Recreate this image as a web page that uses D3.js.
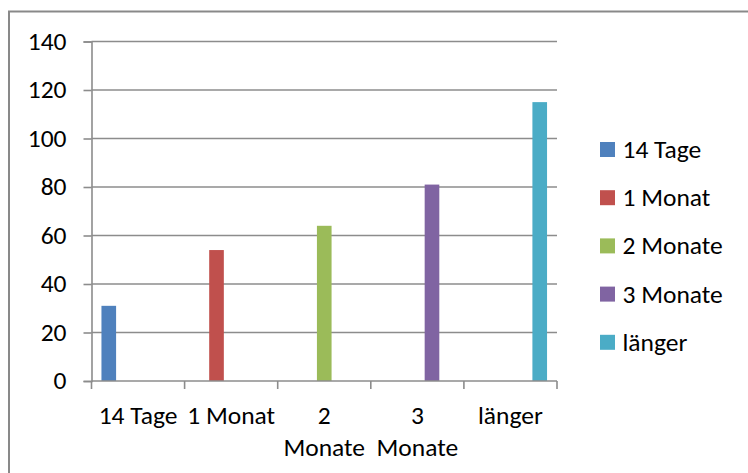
<!DOCTYPE html>
<html>
<head>
<meta charset="utf-8">
<script src="https://cdn.jsdelivr.net/npm/d3@7"></script>
<style>
  body { margin: 0; background: #fff; }
  text { font-family: Carlito, Calibri, "Open Sans", sans-serif; fill: #000; }
</style>
</head>
<body>
<div id="chart"></div>
<script>
// Data
var categories = ["14 Tage", "1 Monat", "2 Monate", "3 Monate", "länger"];
var series = ["14 Tage", "1 Monat", "2 Monate", "3 Monate", "länger"];
var values = [31, 54, 64, 81, 115];
var colors = ["#4f81bd", "#c0504d", "#9bbb59", "#8064a2", "#4bacc6"];
var yTicks = [0, 20, 40, 60, 80, 100, 120, 140];

var W = 748, H = 473;
var fontSize = "25.5px";
var margin = { top: 41.5, left: 91.5 };
var width = 557 - margin.left, height = 381 - margin.top;

var svg = d3.select("#chart").append("svg")
    .attr("width", W)
    .attr("height", H);

svg.append("rect")
    .attr("x", 9).attr("y", 11.5)
    .attr("width", W).attr("height", H)
    .attr("fill", "none")
    .attr("stroke", "#898989")
    .attr("stroke-width", 2);

var g = svg.append("g")
    .attr("transform", "translate(" + margin.left + "," + margin.top + ")");

var x = d3.scaleBand().domain(categories).range([0, width]);
var xs = d3.scaleBand().domain(series).range([0, x.bandwidth()]).paddingOuter(0.68);
var y = d3.scaleLinear().domain([0, 140]).range([height, 0]);

// gridlines
g.selectAll(".grid")
    .data(yTicks.filter(d => d > 0))
    .enter().append("line")
    .attr("x1", 0).attr("x2", width)
    .attr("y1", d => y(d)).attr("y2", d => y(d))
    .attr("stroke", "#8c8c8c")
    .attr("stroke-width", 1.6);

// y axis
var yAxis = g.append("g")
    .call(d3.axisLeft(y).tickValues(yTicks).tickSize(8).tickPadding(17))
    .attr("font-size", null);
yAxis.select(".domain").attr("stroke", "#8c8c8c").attr("stroke-width", 1.6);
yAxis.selectAll(".tick line").attr("stroke", "#8c8c8c").attr("stroke-width", 1.6);
yAxis.selectAll(".tick text").attr("font-size", fontSize).attr("dy", "0.3em").attr("fill", "#000");

// bars: one series per category, others are zero
var rows = categories.map((c, i) => series.map((s, j) => ({ cat: c, s: s, v: i === j ? values[j] : 0, col: colors[j] })));

g.selectAll(".cat")
    .data(rows)
    .enter().append("g")
    .attr("transform", (d, i) => "translate(" + x(categories[i]) + ",0)")
    .selectAll("rect")
    .data(d => d.filter(e => e.v > 0))
    .enter().append("rect")
    .attr("x", d => xs(d.s))
    .attr("width", xs.bandwidth())
    .attr("y", d => y(d.v))
    .attr("height", d => height - y(d.v))
    .attr("fill", d => d.col);

// x axis
var xAxisG = g.append("g")
    .attr("transform", "translate(0," + height + ")");
xAxisG.append("line")
    .attr("x1", 0).attr("x2", width)
    .attr("stroke", "#8c8c8c").attr("stroke-width", 1.6);
var edges = categories.map(c => x(c)).concat([width]);
xAxisG.selectAll(".xt")
    .data(edges)
    .enter().append("line")
    .attr("x1", d => d).attr("x2", d => d)
    .attr("y1", 0).attr("y2", 8)
    .attr("stroke", "#8c8c8c").attr("stroke-width", 1.6);

// category labels, wrapped like the original
var labelLines = { "14 Tage": ["14 Tage"], "1 Monat": ["1 Monat"], "2 Monate": ["2", "Monate"], "3 Monate": ["3", "Monate"], "länger": ["länger"] };
var xl = xAxisG.selectAll(".xl")
    .data(categories)
    .enter().append("text")
    .attr("text-anchor", "middle")
    .attr("font-size", fontSize)
    .attr("x", d => x(d) + x.bandwidth() / 2)
    .attr("y", 43);
xl.selectAll("tspan")
    .data(d => labelLines[d].map(t => ({ t: t, cx: x(d) + x.bandwidth() / 2 })))
    .enter().append("tspan")
    .attr("x", d => d.cx)
    .attr("dy", (d, i) => i === 0 ? 0 : 32)
    .text(d => d.t);

// legend
var legend = svg.append("g")
    .attr("transform", "translate(600,142)");
var item = legend.selectAll(".li")
    .data(series)
    .enter().append("g")
    .attr("transform", (d, i) => "translate(0," + i * 48.2 + ")");
item.append("rect")
    .attr("width", 15).attr("height", 15)
    .attr("fill", (d, i) => colors[i]);
item.append("text")
    .attr("x", 22.5).attr("y", 7.5)
    .attr("dy", "0.33em")
    .attr("font-size", fontSize)
    .text(d => d);
</script>
</body>
</html>
